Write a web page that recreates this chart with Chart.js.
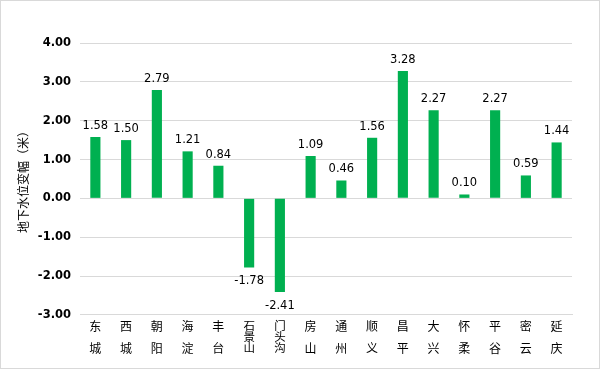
<!DOCTYPE html>
<html>
<head>
<meta charset="utf-8">
<script src="https://cdn.jsdelivr.net/npm/chart.js@4"></script>
<style>
  html, body { margin: 0; padding: 0; background: #fff; }
  .wrap { position: relative; width: 598px; height: 367px; border: 1px solid #d9d9d9; }
</style>
</head>
<body>
<div class="wrap"><canvas id="waterChart"></canvas></div>
<script>
const districts = ['东城', '西城', '朝阳', '海淀', '丰台', '石景山', '门头沟', '房山', '通州', '顺义', '昌平', '大兴', '怀柔', '平谷', '密云', '延庆'];
const changes = [1.58, 1.50, 2.79, 1.21, 0.84, -1.78, -2.41, 1.09, 0.46, 1.56, 3.28, 2.27, 0.10, 2.27, 0.59, 1.44];
const yTitle = '地下水位变幅（米）';

const fontFamily = 'DejaVu Sans, Noto Sans CJK SC, sans-serif';

// two-character names get an empty middle line so every name spans the same height
const stacked = districts.map(d => d.length === 2 ? [d[0], '', d[1]] : d.split(''));

// value labels above / below each bar
const valueLabels = {
    id: 'valueLabels',
    afterDatasetsDraw(chart) {
        const ctx = chart.ctx;
        const meta = chart.getDatasetMeta(0);
        ctx.save();
        ctx.font = '11.5px ' + fontFamily;
        ctx.fillStyle = '#000';
        ctx.textAlign = 'center';
        ctx.textBaseline = 'alphabetic';
        meta.data.forEach((bar, i) => {
            const v = changes[i];
            const y = v >= 0 ? bar.y - 8 : bar.y + 17;
            ctx.fillText(v.toFixed(2), bar.x, y);
        });
        ctx.restore();
    }
};

const ctx = document.getElementById('waterChart').getContext('2d');
new Chart(ctx, {
    type: 'bar',
    data: {
        labels: stacked,
        datasets: [{
            data: changes,
            backgroundColor: '#00B050',
            barPercentage: 0.33,
            categoryPercentage: 1.0
        }]
    },
    options: {
        responsive: true,
        maintainAspectRatio: false,
        animation: false,
        layout: { padding: { top: 42, right: 27, bottom: 6, left: 17 } },
        plugins: {
            legend: { display: false },
            tooltip: { enabled: false }
        },
        scales: {
            x: {
                grid: { display: false, drawTicks: false },
                border: { display: true, color: '#d9d9d9' },
                ticks: {
                    color: '#000',
                    padding: 7,
                    maxRotation: 0,
                    autoSkip: false,
                    // three-character names use a slightly smaller glyph on the same line pitch
                    font: c => districts[c.index] && districts[c.index].length === 3
                        ? { family: fontFamily, size: 11.5, lineHeight: 0.96 }
                        : { family: fontFamily, size: 12, lineHeight: 0.92 }
                }
            },
            y: {
                min: -3,
                max: 4,
                afterFit: scale => { scale.width = 62; },
                grid: { color: '#d9d9d9', drawTicks: false },
                border: { display: false },
                ticks: {
                    stepSize: 1,
                    color: '#000',
                    padding: 9,
                    font: { family: fontFamily, size: 11.5, weight: 'bold' },
                    callback: v => v.toFixed(2)
                },
                title: {
                    display: true,
                    text: yTitle,
                    color: '#000',
                    font: { family: fontFamily, size: 12 },
                    padding: { top: 0, bottom: 0 }
                }
            }
        }
    },
    plugins: [valueLabels]
});
</script>
</body>
</html>
